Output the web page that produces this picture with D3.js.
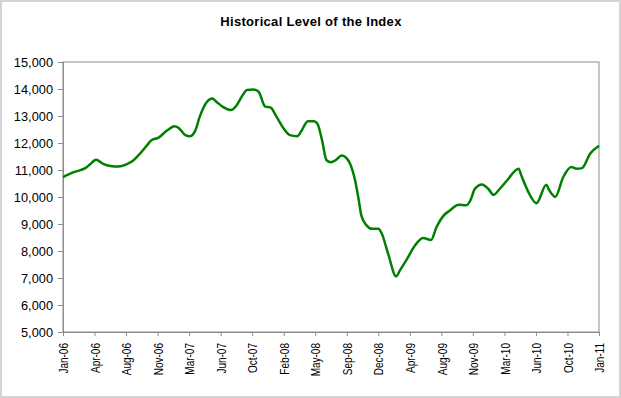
<!DOCTYPE html>
<meta charset="utf-8">
<head>
<style>
  body { margin: 0; background: #fff; }
  svg text { font-family: "Liberation Sans", Arial, sans-serif; fill: #000; }
</style>
</head>
<body>
<script src="https://d3js.org/d3.v7.min.js"></script>
<script>
// months since Jan-06, and index level
var months = [0, 1.2, 2.5, 3.0, 3.7, 4.5, 5.3, 6.2, 7.1, 7.9, 8.6, 9.4, 9.9, 10.7, 11.6, 12.5, 12.9,
  13.7, 14.2, 14.8, 15.3, 16.1, 16.7, 17.2, 17.9, 18.8, 19.4, 20.0, 20.6, 21.3, 21.9, 22.6, 23.3,
  23.7, 24.7, 25.4, 26.2, 26.7, 27.4, 28.1, 28.5, 29.0, 29.5, 30.0, 30.5, 31.2, 31.6, 32.1, 32.7,
  33.1, 33.4, 34.0, 34.6, 35.3, 35.7, 36.4, 37.3, 37.7, 38.5, 39.4, 40.3, 41.2, 41.8, 42.6, 43.3,
  44.3, 45.1, 45.6, 46.1, 46.9, 47.6, 48.2, 48.9, 49.7, 51.0, 51.3, 52.1, 53.0, 54.1, 54.4, 55.1,
  56.0, 56.9, 57.5, 58.1, 59.0, 60];
var values = [10740, 10920, 11070, 11200, 11380, 11230, 11150, 11130, 11210, 11360, 11600, 11910, 12100,
  12200, 12450, 12620, 12570, 12290, 12250, 12450, 12970, 13520, 13650, 13520, 13340, 13220, 13380,
  13710, 13960, 13985, 13900, 13360, 13300, 13090, 12540, 12290, 12250, 12450, 12810, 12810, 12700,
  12100, 11360, 11290, 11360, 11540, 11480, 11260, 10610, 9900, 9310, 8940, 8820, 8820, 8630, 7890,
  7060, 7270, 7700, 8200, 8480, 8410, 8880, 9310, 9500, 9710, 9690, 9870, 10300, 10465, 10305, 10080,
  10305, 10610, 11050, 10800, 10180, 9770, 10450, 10270, 10000, 10740, 11110, 11050, 11070, 11600, 11900];
var tickLabels = ["Jan-06", "Apr-06", "Aug-06", "Nov-06", "Mar-07", "Jun-07", "Oct-07", "Feb-08",
  "May-08", "Sep-08", "Dec-08", "Apr-09", "Aug-09", "Nov-09", "Mar-10", "Jun-10", "Oct-10", "Jan-11"];
var yTicks = [5000, 6000, 7000, 8000, 9000, 10000, 11000, 12000, 13000, 14000, 15000];

var W = 621, H = 398;
var margin = {top: 62, right: 22, bottom: 66, left: 63};
var width = W - margin.left - margin.right,
    height = H - margin.top - margin.bottom;

var svg = d3.select("body").append("svg")
  .attr("width", W)
  .attr("height", H);

svg.append("rect")
  .attr("x", 1).attr("y", 1)
  .attr("width", W - 2).attr("height", H - 2)
  .attr("fill", "#fff")
  .attr("stroke", "#d4d4d4")
  .attr("stroke-width", 2);

svg.append("text")
  .attr("x", 311)
  .attr("y", 26)
  .attr("text-anchor", "middle")
  .style("font-size", "13px")
  .style("font-weight", "bold")
  .style("letter-spacing", "0.3px")
  .text("Historical Level of the Index");

var g = svg.append("g")
  .attr("transform", "translate(" + margin.left + "," + margin.top + ")");

var x = d3.scaleLinear().domain([0, 60]).range([0, width]);
var y = d3.scaleLinear().domain([5000, 15000]).range([height, 0]);

// plot border
g.append("rect")
  .attr("width", width).attr("height", height)
  .attr("fill", "none")
  .attr("stroke", "#8c8c8c")
  .attr("stroke-width", 1);

var yAxis = g.append("g")
  .call(d3.axisLeft(y).tickValues(yTicks).tickFormat(d3.format(",")).tickSize(5).tickPadding(5));
yAxis.select(".domain").attr("stroke", "#8c8c8c");
yAxis.selectAll(".tick line").attr("stroke", "#8c8c8c");
yAxis.selectAll("text").style("font-size", "12.8px").attr("dy", "0.36em");

var tickPos = tickLabels.map(function(d, i) { return i * 60 / (tickLabels.length - 1); });
var xAxis = g.append("g")
  .attr("transform", "translate(0," + height + ")")
  .call(d3.axisBottom(x).tickValues(tickPos)
    .tickFormat(function(d, i) { return tickLabels[i]; }).tickSize(4));
xAxis.select(".domain").attr("stroke", "#8c8c8c");
xAxis.selectAll(".tick line").attr("stroke", "#8c8c8c");
xAxis.selectAll("text")
  .attr("text-anchor", "end")
  .attr("x", 0).attr("y", 0).attr("dy", "0.36em")
  .attr("transform", "translate(0,11) rotate(-90) scale(0.77,1)")
  .style("font-size", "13px");

var pts = months.map(function(m, i) { return [m, values[i]]; });
var line = d3.line()
  .x(function(d) { return x(d[0]); })
  .y(function(d) { return y(d[1]); })
  .curve(d3.curveMonotoneX);

g.append("path")
  .datum(pts)
  .attr("fill", "none")
  .attr("stroke", "#008000")
  .attr("stroke-width", 2.5)
  .attr("stroke-linejoin", "round")
  .attr("d", line);
</script>
</body>
